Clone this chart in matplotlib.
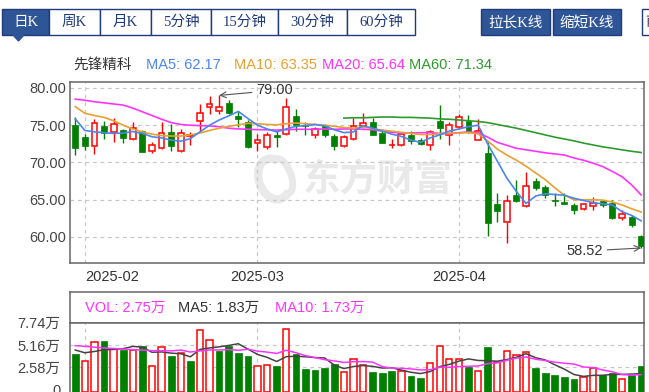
import matplotlib
matplotlib.use("Agg")
import matplotlib.pyplot as plt
from matplotlib.patches import Rectangle, Polygon, Arc
import numpy as np

plt.rcParams['font.family'] = ['Liberation Sans', 'Noto Sans CJK SC', 'DejaVu Sans']

W, H = 649, 392

# ---- daily candles (2025-01-27 .. 2025-04) ----
opens = [75.07, 73.42, 72.21, 74.86, 74.10, 74.40, 73.11, 74.19, 71.50, 71.99,
         74.09, 71.50, 73.52, 75.57, 77.45, 76.87, 78.03, 76.24, 75.44, 72.66,
         72.08, 73.65, 73.87, 76.24, 75.07, 73.65, 75.07, 73.56, 72.17, 73.11,
         74.86, 75.44, 74.00, 72.30, 72.30, 73.73, 72.98, 72.30, 75.53, 73.73,
         74.77, 75.53, 73.07, 71.32, 64.43, 62.05, 65.64, 64.16, 67.56, 66.75,
         64.97, 64.74, 64.30, 63.72, 64.16, 64.88, 64.61, 62.51, 62.64, 60.13]
highs = [76.10, 73.78, 75.80, 75.53, 75.97, 74.55, 75.44, 74.30, 72.75, 75.44,
         75.20, 74.54, 74.09, 77.90, 78.93, 79.00, 78.35, 76.87, 75.66, 73.87,
         74.09, 74.32, 78.66, 77.14, 75.44, 74.77, 75.20, 73.87, 73.65, 75.97,
         76.68, 75.97, 74.54, 73.20, 74.09, 74.19, 73.29, 74.32, 77.76, 75.44,
         76.55, 76.42, 75.80, 72.80, 65.86, 65.64, 67.65, 68.77, 67.88, 66.98,
         65.95, 65.95, 64.52, 64.52, 65.41, 64.97, 64.97, 63.62, 62.95, 60.27]
lows = [71.05, 71.64, 71.10, 73.20, 72.75, 72.60, 72.98, 71.40, 71.30, 71.85,
        71.60, 71.40, 72.30, 74.10, 76.55, 76.55, 76.55, 74.77, 72.00, 71.50,
        71.85, 72.08, 73.73, 74.23, 73.65, 73.29, 73.42, 71.64, 72.08, 72.98,
        74.67, 73.65, 72.58, 71.95, 72.20, 72.52, 72.40, 71.64, 73.20, 72.30,
        74.54, 74.00, 72.98, 60.20, 62.05, 59.15, 64.74, 64.07, 66.30, 65.20,
        64.16, 64.39, 63.09, 63.62, 63.62, 64.07, 62.38, 62.28, 61.30, 58.52]
closes = [71.95, 72.17, 75.34, 73.96, 75.17, 73.33, 74.63, 71.41, 72.30, 74.00,
          72.20, 74.00, 73.73, 76.68, 77.90, 77.45, 76.69, 75.88, 72.08, 72.98,
          73.73, 73.42, 77.45, 74.99, 74.90, 74.54, 73.65, 72.17, 73.42, 74.90,
          75.34, 73.73, 72.66, 72.40, 73.87, 72.84, 72.52, 74.09, 74.63, 74.99,
          76.10, 74.10, 74.19, 61.84, 63.53, 64.83, 64.87, 66.85, 66.54, 65.64,
          64.83, 64.43, 63.62, 64.43, 64.61, 64.30, 62.60, 63.10, 61.60, 58.85]

# moving averages
ma5 = [75.85, 74.30, 74.10, 74.00, 73.90, 73.95, 74.15, 73.90, 73.45, 73.30,
       73.00, 72.85, 73.20, 74.10, 75.00, 75.70, 76.25, 76.85, 75.90, 75.00,
       74.50, 74.10, 74.50, 74.85, 74.95, 75.10, 74.90, 74.40, 74.00, 74.10,
       74.95, 74.60, 74.20, 73.80, 73.50, 73.00, 72.70, 73.30, 73.70, 74.20,
       74.50, 74.80, 75.00, 72.50, 70.20, 67.90, 66.10, 64.50, 65.50, 65.80,
       65.70, 65.60, 65.20, 64.90, 64.60, 64.45, 64.30, 63.40, 62.90, 62.17]
ma10 = [77.50, 76.60, 76.30, 76.05, 75.60, 75.00, 74.50, 74.10, 73.80, 73.60,
        73.55, 73.55, 73.70, 73.95, 74.30, 74.60, 74.85, 75.05, 75.25, 75.20,
        75.10, 75.05, 75.20, 75.30, 75.20, 75.10, 75.00, 74.85, 74.70, 74.60,
        74.75, 74.55, 74.35, 74.20, 74.05, 73.90, 73.75, 73.75, 73.85, 73.90,
        73.95, 74.00, 73.85, 72.90, 71.80, 71.00, 70.30, 69.50, 68.60, 67.70,
        66.60, 65.60, 65.00, 65.00, 65.00, 64.95, 64.70, 64.30, 63.80, 63.35]
ma20 = [78.50, 78.35, 78.15, 78.00, 77.85, 77.70, 77.30, 76.80, 76.30, 75.80,
        75.35, 75.10, 75.00, 74.95, 74.90, 74.80, 74.60, 74.50, 74.45, 74.40,
        74.40, 74.35, 74.40, 74.45, 74.45, 74.45, 74.50, 74.45, 74.50, 74.50,
        74.45, 74.40, 74.20, 74.05, 73.95, 73.95, 74.00, 74.00, 73.90, 73.90,
        74.00, 74.10, 74.00, 73.40, 72.70, 72.30, 71.90, 71.70, 71.50, 71.30,
        71.15, 71.00, 70.60, 70.30, 69.90, 69.45, 68.80, 68.10, 67.00, 65.64]
ma60 = [np.nan] * 28 + [
        75.95, 76.00, 76.00, 76.05, 76.10, 76.10, 76.05, 76.05, 76.00, 75.95,
        75.85, 75.80, 75.70, 75.60, 75.50, 75.35, 75.10, 74.85, 74.60, 74.30,
        74.00, 73.70, 73.40, 73.15, 72.90, 72.60, 72.35, 72.10, 71.90, 71.70,
        71.50, 71.34]

# volume in 万手
volume = [4.09, 3.26, 5.48, 5.67, 4.65, 4.57, 4.57, 5.08, 2.66, 4.88,
          3.85, 4.25, 3.26, 6.94, 5.76, 4.49, 5.04, 4.25, 3.85, 2.66,
          2.78, 2.66, 7.06, 4.09, 2.35, 2.27, 2.50, 2.90, 2.07, 3.50,
          2.86, 2.07, 1.91, 2.19, 2.19, 1.59, 1.32, 3.06, 5.04, 3.50,
          3.50, 2.58, 2.19, 4.88, 3.18, 4.45, 3.97, 4.29, 2.50, 1.91,
          1.65, 1.40, 1.20, 1.40, 2.50, 1.68, 1.90, 1.20, 1.62, 2.75]
vol_ma5 = [4.57, 4.25, 4.40, 4.60, 4.63, 4.73, 4.99, 4.91, 4.31, 4.35,
           4.21, 4.14, 3.78, 4.64, 4.81, 4.94, 5.10, 5.30, 4.68, 4.06,
           3.72, 3.24, 3.80, 3.85, 3.79, 3.69, 3.65, 2.82, 2.42, 2.65,
           2.77, 2.68, 2.48, 2.51, 2.24, 1.99, 1.84, 2.07, 2.64, 2.90,
           3.28, 3.54, 3.36, 3.33, 3.27, 3.46, 3.73, 4.15, 3.68, 3.42,
           2.86, 2.35, 1.73, 1.51, 1.63, 1.64, 1.74, 1.74, 1.78, 1.83]
vol_ma10 = [5.08, 5.00, 4.90, 4.82, 4.75, 4.68, 4.62, 4.56, 4.50, 4.49,
            4.47, 4.57, 4.34, 4.47, 4.58, 4.57, 4.62, 4.54, 4.66, 4.44,
            4.33, 4.17, 4.55, 4.26, 3.92, 3.70, 3.45, 3.31, 3.13, 3.22,
            3.23, 3.17, 2.65, 2.46, 2.45, 2.38, 2.26, 2.28, 2.57, 2.57,
            2.64, 2.69, 2.72, 2.99, 3.08, 3.37, 3.64, 3.76, 3.50, 3.35,
            3.16, 3.04, 2.94, 2.60, 2.53, 2.25, 2.04, 1.73, 1.65, 1.73]

month_labels = ['2025-02', '2025-03', '2025-04']
month_idx = [1, 19, 40]
price_ticks = [60, 65, 70, 75, 80]
vol_ticks = [0, 2.58, 5.16, 7.74]

tabs = ['日K', '周K', '月K', '5分钟', '15分钟', '30分钟', '60分钟']
tab_edges = [2, 49, 100, 151, 211, 278, 347, 415]

RED, GREEN = '#ff0000', '#007f00'
BLUE, ORANGE, MAGENTA, DKGREEN = '#4b86ee', '#e8a030', '#ff33ff', '#2e9a2e'
NAVY, NAVY_FILL = '#1f3b7a', '#2e5596'
GRID = '#c8c8c8'
FRAME = '#666666'


def box(left, top, right, bottom):
    return [left / W, 1 - bottom / H, (right - left) / W, (bottom - top) / H]


fig = plt.figure(figsize=(W / 100, H / 100), dpi=100)

# overlay in pixel coordinates for the toolbar and legends
ov = fig.add_axes([0, 0, 1, 1])
ov.set_xlim(0, W)
ov.set_ylim(H, 0)
ov.axis('off')

ax = fig.add_axes(box(70, 82, 644, 262.7))
vh = fig.add_axes(box(70, 292.3, 644, 322.7))
vax = fig.add_axes(box(70, 322.7, 644, 392))

# ---- toolbar ----
serif_cjk = ['Liberation Serif', 'Noto Sans CJK SC']
for k, name in enumerate(tabs):
    x0, x1 = tab_edges[k], tab_edges[k + 1]
    sel = k == 0
    ov.add_patch(Rectangle((x0, 9), x1 - x0, 26, facecolor=NAVY_FILL if sel else 'white',
                           edgecolor=NAVY, lw=1))
    ov.text((x0 + x1) / 2, 22.5, name, ha='center', va='center', fontsize=10.5,
            family=serif_cjk, color='white' if sel else NAVY)
ov.add_patch(Polygon([(13, 35), (24, 35), (18.5, 41)], closed=True, color=NAVY_FILL))
for x0, x1, name in [(481, 550, '拉长K线'), (553, 621, '缩短K线')]:
    ov.add_patch(Rectangle((x0, 9), x1 - x0, 26, facecolor=NAVY_FILL, edgecolor=NAVY, lw=1))
    ov.text((x0 + x1) / 2, 22.5, name, ha='center', va='center', fontsize=10.5,
            family=serif_cjk, color='white')
ov.add_patch(Rectangle((642, 9), 30, 26, facecolor='white', edgecolor=NAVY, lw=1))
ov.text(645, 22.5, '前', ha='left', va='center', fontsize=10.5, family=serif_cjk, color=NAVY)

# ---- price legend ----
for xp, txt, col in [(73, '先锋精科', '#333333'),
                     (146, f'MA5: {ma5[-1]:.2f}', BLUE),
                     (234, f'MA10: {ma10[-1]:.2f}', ORANGE),
                     (322, f'MA20: {ma20[-1]:.2f}', MAGENTA),
                     (409, f'MA60: {ma60[-1]:.2f}', DKGREEN)]:
    ov.text(xp, 65, txt, ha='left', va='center', fontsize=10.5, color=col)

# ---- candles ----
x = np.arange(len(closes))
o, h, l, c = (np.array(a) for a in (opens, highs, lows, closes))
up = c >= o
for i in x:
    if up[i]:
        ax.vlines(i, c[i], h[i], color=RED, lw=1, zorder=2)
        ax.vlines(i, l[i], o[i], color=RED, lw=1, zorder=2)
    else:
        ax.vlines(i, l[i], h[i], color=GREEN, lw=1, zorder=2)
bottoms = np.minimum(o, c)
heights = np.maximum(np.abs(c - o), 0.08)
ax.bar(x[up], heights[up], bottom=bottoms[up], width=0.6, facecolor='white',
       edgecolor=RED, lw=1.1, zorder=3)
ax.bar(x[~up], heights[~up], bottom=bottoms[~up], width=0.62, color=GREEN,
       edgecolor=GREEN, lw=0.5, zorder=3)

for series, col in [(ma60, DKGREEN), (ma20, MAGENTA), (ma10, ORANGE), (ma5, BLUE)]:
    ax.plot(x, series, color=col, lw=1.2, zorder=4)

# high / low marks
ih, il = int(np.argmax(h)), int(np.argmin(l))
ax.annotate(f'{h[ih]:.2f}', xy=(ih, h[ih]), xytext=(37, 5), textcoords='offset pixels',
            ha='left', va='center', fontsize=10.5, color='#333333',
            arrowprops=dict(arrowstyle='->', color='#555555', lw=0.8, shrinkA=1, shrinkB=0),
            zorder=5)
ax.annotate(f'{l[il]:.2f}', xy=(il, l[il]), xytext=(-38, -3), textcoords='offset pixels',
            ha='right', va='center', fontsize=10.5, color='#333333',
            arrowprops=dict(arrowstyle='->', color='#555555', lw=0.8, shrinkA=1, shrinkB=0),
            zorder=5)

# watermark
ax.text(378, 180, '东方财富', transform=ov.transData, ha='center', va='center',
        fontsize=27, fontweight='bold', family='Noto Sans CJK SC', color='#e9e9e9',
        zorder=0.5, clip_on=False)
ax.add_patch(Arc((274, 179), 30, 42, angle=-20, theta1=60, theta2=300, lw=6,
                 color='#e9e9e9', transform=ov.transData, zorder=0.5))
ax.add_patch(Arc((283, 176), 16, 36, angle=-20, theta1=-100, theta2=100, lw=5,
                 color='#e9e9e9', transform=ov.transData, zorder=0.5))

ax.set_xlim(-0.55, 59.3)
ax.set_ylim(56.55, 80.8)
for v in price_ticks:
    ax.axhline(v, color=GRID, lw=0.9, ls=(0, (3, 3)), zorder=1)
for m in month_idx:
    ax.axvline(m, color=GRID, lw=0.9, ls=(0, (3, 3)), zorder=1)
ax.set_yticks(price_ticks)
ax.set_yticklabels([f'{v:.2f}' for v in price_ticks])
ax.set_xticks(month_idx)
ax.set_xticklabels(month_labels)
ax.get_xticklabels()[0].set_ha('left')
ax.tick_params(axis='y', length=0, pad=3, labelsize=10.5, labelcolor='#444444')
ax.tick_params(axis='x', length=0, pad=5, labelsize=10.5, labelcolor='#333333')
for s in ax.spines.values():
    s.set_color(FRAME)
    s.set_linewidth(1.1)

# ---- volume header ----
vh.set_xticks([])
vh.set_yticks([])
vh.set_facecolor('none')
for s in vh.spines.values():
    s.set_color(FRAME)
    s.set_linewidth(1.1)
for xp, txt, col in [(85, f'VOL: {volume[-1]:.2f}万', MAGENTA),
                     (178, f'MA5: {vol_ma5[-1]:.2f}万', '#333333'),
                     (275, f'MA10: {vol_ma10[-1]:.2f}万', MAGENTA)]:
    ov.text(xp, 308, txt, ha='left', va='center', fontsize=10.5, color=col)

# ---- volume bars ----
vol = np.array(volume)
prev_c = np.r_[o[0], c[:-1]]
vup = c >= prev_c
VOL_FLOOR = -0.3
vax.bar(x[vup], vol[vup] - VOL_FLOOR, bottom=VOL_FLOOR, width=0.66, facecolor='white',
        edgecolor=RED, lw=1.1, zorder=3)
vax.bar(x[~vup], vol[~vup] - VOL_FLOOR, bottom=VOL_FLOOR, width=0.7, color=GREEN,
        edgecolor=GREEN, lw=0.5, zorder=3)
vax.plot(x, vol_ma5, color='#444444', lw=1.1, zorder=4)
vax.plot(x, vol_ma10, color=MAGENTA, lw=1.1, zorder=4)
for v in vol_ticks[1:3]:
    vax.axhline(v, color=GRID, lw=0.9, ls=(0, (3, 3)), zorder=1)
for m in month_idx:
    vax.axvline(m, color=GRID, lw=0.9, ls=(0, (3, 3)), zorder=1)
vax.set_xlim(-0.55, 59.3)
vax.set_ylim(VOL_FLOOR, 7.74)
vax.set_xticks([])
vax.set_yticks(vol_ticks)
vax.set_yticklabels(['0'] + [f'{v:.2f}万' for v in vol_ticks[1:]])
vax.tick_params(axis='y', length=0, pad=7, labelsize=10.5, labelcolor='#444444')
vax.spines['bottom'].set_visible(False)
for s in ('left', 'right', 'top'):
    vax.spines[s].set_color(FRAME)
    vax.spines[s].set_linewidth(1.1)

fig.savefig('out.png', dpi=100)
